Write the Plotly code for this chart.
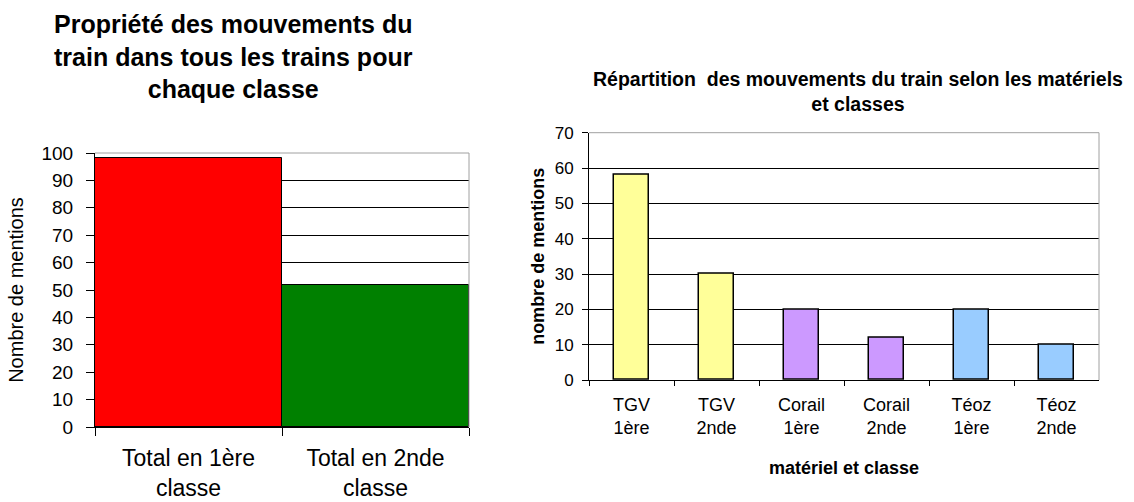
import plotly.graph_objects as go

# Graphique de gauche : total par classe
classes = ['Total en 1ère<br>classe', 'Total en 2nde<br>classe']
totaux = [98, 52]
couleurs_classes = ['#FF0000', '#008000']

# Graphique de droite : par matériel et classe
materiels = ['TGV<br>1ère', 'TGV<br>2nde', 'Corail<br>1ère', 'Corail<br>2nde', 'Téoz<br>1ère', 'Téoz<br>2nde']
mentions = [58, 30, 20, 12, 20, 10]
couleurs_materiels = ['#FFFF99', '#FFFF99', '#CC99FF', '#CC99FF', '#99CCFF', '#99CCFF']

W, H = 1134, 502
police = 'Liberation Sans, Arial, sans-serif'


def px_x(a, b):
    return [a / W, b / W]


def px_y(top, bottom):
    return [1 - bottom / H, 1 - top / H]


fig = go.Figure()

fig.add_trace(go.Bar(
    x=classes, y=totaux, marker=dict(color=couleurs_classes, line=dict(color='black', width=1)),
    xaxis='x', yaxis='y', showlegend=False, hoverinfo='x+y'))

fig.add_trace(go.Bar(
    x=materiels, y=mentions, marker=dict(color=couleurs_materiels, line=dict(color='black', width=1.5)),
    xaxis='x2', yaxis='y2', showlegend=False, hoverinfo='x+y', width=0.42))

axe_x = dict(type='category', showgrid=False, showline=True, linecolor='black', linewidth=1,
             ticks='outside', tickson='boundaries', tickcolor='black', zeroline=False, automargin=False)
axe_y = dict(showgrid=True, gridcolor='black', gridwidth=1, showline=True, linecolor='black',
             linewidth=1, ticks='outside', tickcolor='black', zeroline=False, automargin=False)

fig.update_layout(
    width=W, height=H,
    margin=dict(l=0, r=0, t=0, b=0),
    paper_bgcolor='white', plot_bgcolor='white',
    font=dict(family=police, color='black'),
    bargap=0,
    xaxis=dict(axe_x, domain=px_x(95, 469), tickfont=dict(size=23), anchor='y', ticklen=8,
               ticklabelstandoff=10),
    yaxis=dict(axe_y, domain=px_y(153, 427), range=[0, 100], dtick=10, tickfont=dict(size=19),
               anchor='x', ticklen=8, ticklabelstandoff=9,
               title=dict(text='Nombre de mentions', font=dict(size=20), standoff=12)),
    xaxis2=dict(axe_x, domain=px_x(589, 1099), tickfont=dict(size=18), anchor='y2', ticklen=5,
                ticklabelstandoff=8,
                title=dict(text='<b>matériel et classe</b>', font=dict(size=18), standoff=24)),
    yaxis2=dict(axe_y, domain=px_y(132.7, 380), range=[0, 70], dtick=10, tickfont=dict(size=17),
                anchor='x2', ticklen=6, ticklabelstandoff=5,
                title=dict(text='<b>nombre de mentions</b>', font=dict(size=18), standoff=5)),
    annotations=[
        dict(text='<b>Propriété des mouvements du<br>train dans tous les trains pour<br>chaque classe</b>',
             x=233.5 / W, y=1 - 56 / H, xref='paper', yref='paper', xanchor='center', yanchor='middle',
             showarrow=False, font=dict(size=25)),
        dict(text='<b>Répartition  des mouvements du train selon les matériels<br>et classes</b>',
             x=857.5 / W, y=1 - 91.5 / H, xref='paper', yref='paper', xanchor='center', yanchor='middle',
             showarrow=False, font=dict(size=19.5)),
    ],
    shapes=[
        dict(type='line', xref='x domain', yref='y domain', x0=0, x1=1, y0=1, y1=1,
             line=dict(color='#A0A0A0', width=1)),
        dict(type='line', xref='x domain', yref='y domain', x0=1, x1=1, y0=0, y1=1,
             line=dict(color='#A0A0A0', width=1)),
        dict(type='line', xref='x2 domain', yref='y2 domain', x0=0, x1=1, y0=1, y1=1,
             line=dict(color='#A0A0A0', width=1)),
        dict(type='line', xref='x2 domain', yref='y2 domain', x0=1, x1=1, y0=0, y1=1,
             line=dict(color='#A0A0A0', width=1)),
    ],
)

# pas de marge autour de la page, pour que la figure tienne exactement dans la fenêtre
fig.write_html('out.html', config={'displayModeBar': False},
               post_script="document.body.style.margin = '0';")
